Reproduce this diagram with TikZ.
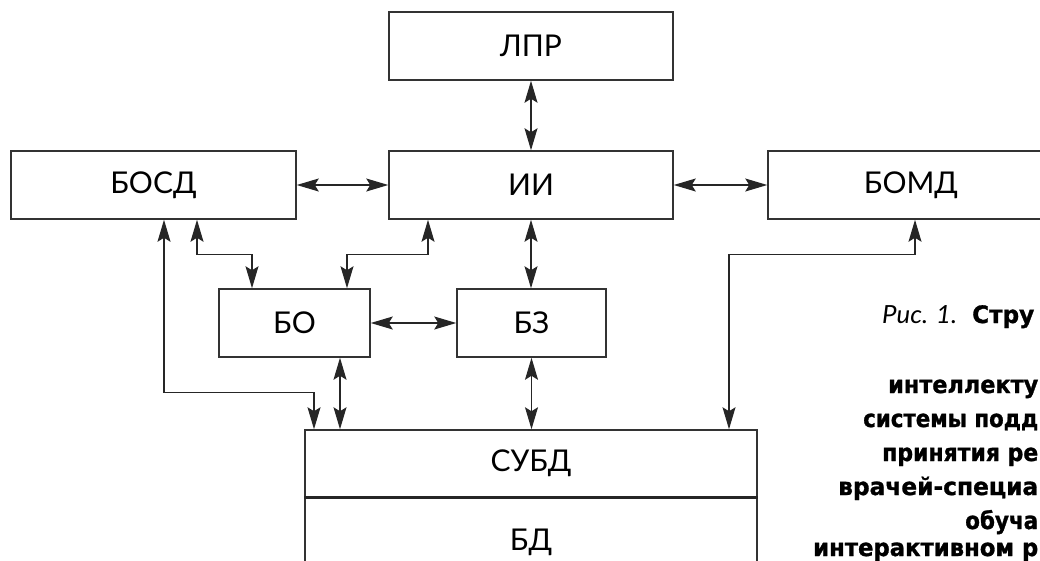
\documentclass[tikz,border=0pt]{standalone}
\usepackage{fontspec}
\setmainfont{Lato}
\newfontfamily\capfont{DejaVu Sans}[BoldFeatures={FakeBold=1.2}]
\usetikzlibrary{arrows.meta}
\newcommand{\capfit}[2]{\resizebox{#1}{\height}{#2}}
\begin{document}
\begin{tikzpicture}[x=1pt,y=-1pt,
  blk/.style={draw=black!80, line width=1.5pt, rectangle, inner sep=0pt,
    font=\fontsize{30}{32}\selectfont, text=black},
  link/.style={draw=black!85, line width=1.3pt,
    {Stealth[length=22pt,width=13pt,inset=4pt]}-{Stealth[length=22pt,width=13pt,inset=4pt]}},
  captxt/.style={anchor=base west, inner sep=0pt, text=black,
    font=\capfont\bfseries\fontsize{24}{26}\selectfont},
  capit/.style={anchor=base west, inner sep=0pt, text=black,
    font=\itshape\fontsize{25}{27}\selectfont}
]
\useasboundingbox (0,0) rectangle (1040,560);
\clip (0,0) rectangle (1040,560);

% blocks
\node[blk, minimum width=284pt, minimum height=68pt] (lpr)  at (531,46)    {ЛПР};
\node[blk, minimum width=284pt, minimum height=68pt] (ii)   at (531,185)   {ИИ};
\node[blk, minimum width=285pt, minimum height=68pt] (bosd) at (153.5,185) {БОСД};
\node[blk, minimum width=286pt, minimum height=68pt] (bomd) at (911,185)   {БОМД};
\node[blk, minimum width=151pt, minimum height=68pt] (bo)   at (294.5,323) {БО};
\node[blk, minimum width=149pt, minimum height=68pt] (bz)   at (531.5,323) {БЗ};
\node[blk, minimum width=452pt, minimum height=67pt] (subd) at (531,463.5) {СУБД};
\node[blk, minimum width=452pt, minimum height=90pt] (bd)   at (531,542)   {БД};
\draw[line width=2.6pt, black!85] (subd.south west) -- (subd.south east);

% connectors
\draw[link] (lpr.south) -- (ii.north);
\draw[link] (bosd.east) -- (ii.west);
\draw[link] (ii.east) -- (bomd.west);
\draw[link] (ii.south) -- (ii.south |- bz.north);
\draw[link] (bo.east) -- (bz.west);
\draw[link] ([xshift=43.5pt]bosd.south) -- ++(0,35) -| ([xshift=-42.5pt]bo.north);
\draw[link] ([xshift=-103pt]ii.south) -- ++(0,35) -| ([xshift=52.5pt]bo.north);
\draw[link] ([xshift=10.5pt]bosd.south) -- ++(0,173) -| ([xshift=-217pt]subd.north);
\draw[link] ([xshift=45.5pt]bo.south) -- ([xshift=45.5pt]bo.south |- subd.north);
\draw[link] (bz.south) -- (bz.south |- subd.north);
\draw[link] ([xshift=4pt]bomd.south) -- ++(0,35) -| ([xshift=198pt]subd.north);

% caption (as far as the picture shows it)
\node[capit]  (cap1a) at (882,323) {\capfit{75pt}{Рис. 1.}};
\node[captxt] (cap1b) at (972,323) {\capfit{62pt}{Стру}};
\node[captxt] (cap2)  at (888,393) {\capfit{150pt}{интеллекту}};
\node[captxt] (cap3)  at (863,427) {\capfit{175pt}{системы подд}};
\node[captxt] (cap4)  at (882,461) {\capfit{156pt}{принятия ре}};
\node[captxt] (cap5)  at (838,495) {\capfit{200pt}{врачей-специа}};
\node[captxt] (cap6)  at (965,529) {\capfit{73pt}{обуча}};
\node[captxt] (cap7)  at (813,556) {\capfit{225pt}{интерактивном р}};
\end{tikzpicture}
\end{document}
